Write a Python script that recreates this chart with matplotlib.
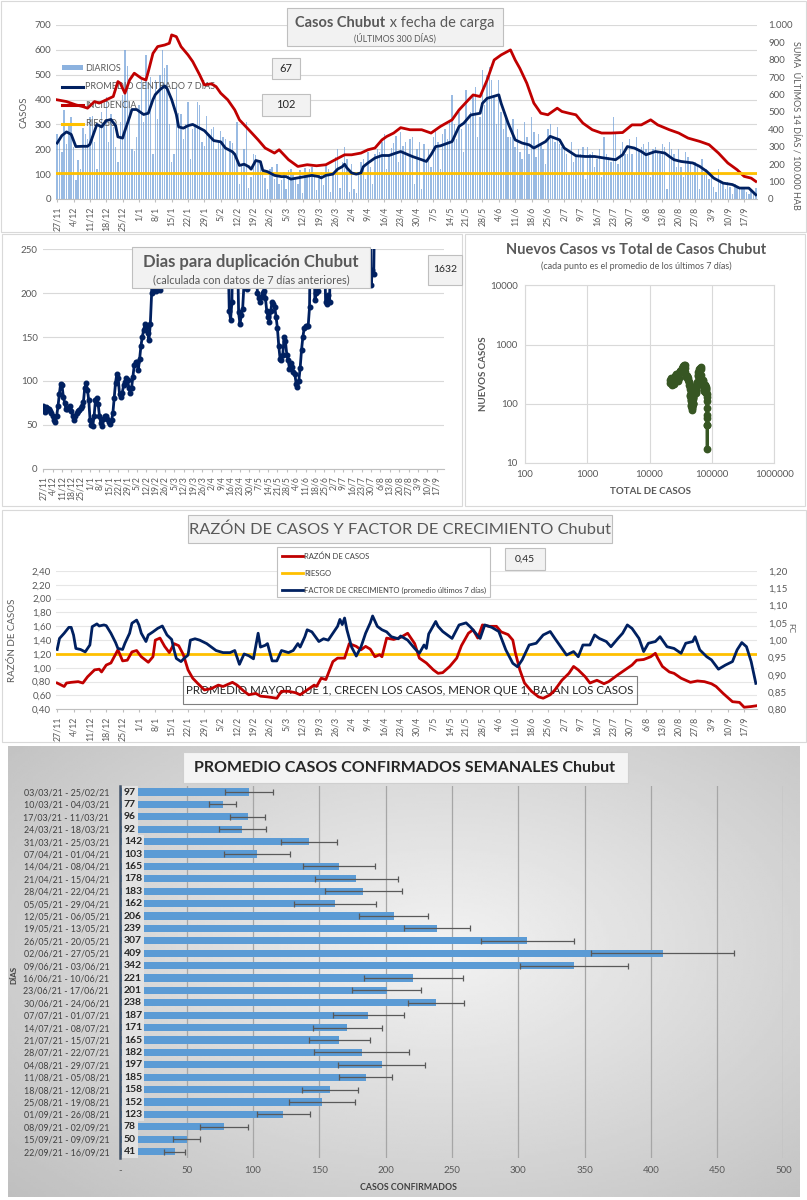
import numpy as np
import matplotlib
matplotlib.use('Agg')
import matplotlib.pyplot as plt
from matplotlib.patches import Rectangle, Patch
from matplotlib.lines import Line2D
from matplotlib.ticker import FuncFormatter, NullLocator

plt.rcParams['font.family'] = ['Lato', 'DejaVu Sans']

# ---------------- datos ----------------
fechas = ['27/11', '4/12', '11/12', '18/12', '25/12', '1/1', '8/1', '15/1', '22/1', '29/1',
          '5/2', '12/2', '19/2', '26/2', '5/3', '12/3', '19/3', '26/3', '2/4', '9/4',
          '16/4', '23/4', '30/4', '7/5', '14/5', '21/5', '28/5', '4/6', '11/6', '18/6',
          '25/6', '2/7', '9/7', '16/7', '23/7', '30/7', '6/8', '13/8', '20/8', '27/8',
          '3/9', '10/9', '17/9']

# casos diarios (300 dias desde 27/11)
diarios = [
    262, 245, 190, 360, 220, 300, 330,
    210, 75, 155, 120, 285, 260, 240,
    330, 335, 230, 120, 300, 350, 310,
    410, 230, 340, 290, 210, 150, 310,
    420, 600, 535, 390, 200, 195, 250,
    380, 480, 310, 580, 470, 490, 180,
    480, 320, 500, 600, 525, 540, 300,
    150, 180, 450, 345, 340, 240, 300,
    390, 160, 280, 300, 390, 380, 230,
    215, 335, 260, 280, 290, 200, 230,
    275, 250, 240, 110, 235, 225, 170,
    310, 60, 140, 200, 310, 45, 90,
    180, 175, 150, 140, 125, 85, 40,
    120, 130, 80, 140, 60, 75, 110,
    40, 115, 120, 100, 90, 60, 115,
    25, 125, 95, 120, 130, 90, 35,
    95, 110, 55, 140, 120, 30, 100,
    170, 200, 45, 150, 210, 160, 30,
    140, 40, 25, 110, 150, 160, 80,
    190, 130, 60, 180, 200, 190, 230,
    260, 120, 180, 205, 225, 255, 150,
    270, 215, 230, 110, 240, 250, 60,
    200, 230, 40, 220, 160, 200, 130,
    250, 280, 230, 120, 260, 280, 240,
    310, 420, 300, 240, 350, 280, 190,
    440, 300, 350, 420, 450, 250, 330,
    520, 380, 500, 530, 480, 420, 300,
    480, 350, 280, 330, 250, 250, 320,
    210, 280, 190, 160, 310, 250, 180,
    330, 270, 170, 260, 220, 200, 140,
    280, 300, 250, 230, 290, 220, 210,
    200, 180, 100, 230, 150, 170, 200,
    180, 210, 80, 210, 180, 190, 130,
    160, 200, 90, 250, 180, 170, 150,
    330, 260, 140, 200, 230, 180, 180,
    240, 180, 100, 250, 200, 210, 220,
    200, 230, 90, 200, 210, 190, 180,
    220, 210, 40, 230, 200, 180, 130,
    200, 130, 90, 190, 170, 150, 110,
    150, 130, 40, 160, 100, 120, 80,
    90, 50, 30, 120, 70, 60, 40,
    70, 50, 20, 60, 50, 45, 40,
    50, 30, 20, 40, 30, 45]

# promedio centrado 7 dias (dia, valor)
prom_dias = [0, 2, 4, 6, 8, 11, 13, 14, 17, 19, 21, 23, 25, 26, 28, 29, 31, 32, 34, 37,
             39, 41, 42, 44, 46, 47, 49, 51, 52, 54, 56, 58, 60, 63, 65, 67, 70, 72, 75, 76,
             78, 80, 82, 83, 85, 87, 88, 90, 93, 96, 98, 100, 103, 106, 109, 112, 113, 115, 118, 120,
             122, 123, 124, 126, 128, 130, 131, 133, 136, 139, 142, 145, 147, 152, 156, 158, 160, 162, 164, 169,
             172, 174, 177, 181, 182, 184, 189, 190, 193, 196, 199, 202, 204, 209, 211, 215, 217, 222, 226, 230,
             234, 239, 242, 244, 247, 250, 252, 256, 260, 262, 264, 267, 272, 275, 278, 281, 285, 289, 292, 296,
             299]
prom_vals = [225, 255, 270, 260, 211, 212, 212, 220, 300, 290, 315, 320, 295, 250, 245, 275, 330, 360, 360, 340,
             345, 400, 420, 440, 455, 445, 400, 340, 290, 285, 295, 300, 290, 275, 255, 235, 230, 205, 190, 180,
             135, 140, 130, 120, 155, 150, 115, 110, 95, 90, 90, 80, 85, 90, 95, 90, 85, 95, 100, 120,
             130, 140, 125, 105, 100, 105, 130, 145, 165, 175, 175, 185, 191, 171, 158, 151, 178, 211, 214, 231,
             292, 305, 338, 345, 385, 405, 419, 385, 305, 238, 225, 218, 205, 231, 252, 238, 205, 174, 171, 171,
             165, 158, 178, 211, 205, 191, 178, 191, 185, 171, 158, 151, 145, 131, 111, 84, 64, 58, 44, 44,
             17]

# incidencia: suma ultimos 14 dias / 100.000 hab (dia, valor)
inc_dias = [0, 4, 8, 11, 13, 16, 18, 21, 24, 26, 27, 29, 31, 33, 36, 38, 39, 41, 43, 46,
            48, 49, 51, 53, 56, 58, 61, 63, 66, 68, 70, 73, 76, 78, 82, 86, 89, 93, 95, 99,
            103, 107, 111, 115, 119, 123, 126, 130, 133, 136, 139, 141, 144, 147, 151, 156, 160, 164, 169, 172,
            176, 178, 181, 184, 187, 190, 194, 196, 198, 201, 204, 207, 210, 214, 216, 219, 222, 225, 229, 233,
            237, 242, 246, 250, 254, 257, 262, 266, 270, 275, 279, 283, 287, 291, 294, 297, 299]
inc_vals = [570, 560, 541, 531, 522, 560, 551, 570, 589, 675, 665, 608, 684, 723, 694, 684, 732, 837, 876, 885,
            895, 943, 933, 876, 828, 790, 713, 656, 662, 646, 608, 570, 512, 455, 398, 340, 293, 264, 283, 226,
            187, 197, 191, 197, 226, 254, 254, 264, 283, 293, 340, 359, 379, 410, 398, 398, 379, 417, 455, 512,
            570, 598, 589, 684, 799, 828, 857, 799, 751, 665, 551, 493, 484, 522, 503, 493, 484, 436, 398, 379,
            379, 382, 426, 426, 455, 426, 398, 379, 350, 331, 312, 264, 207, 168, 130, 120, 101]
riesgo_inc = 150

# dias para duplicacion (uno por dia; fuera de escala > 250)
duplicacion = [
    71, 65, 70, 69, 68, 66, 63, 60, 56, 53,
    60, 71, 85, 97, 95, 82, 75, 68, 68, 70,
    71, 66, 60, 56, 60, 63, 66, 67, 69, 71,
    76, 92, 98, 90, 78, 55, 50, 49, 60, 78,
    80, 74, 60, 52, 49, 57, 60, 60, 57, 53,
    51, 55, 63, 80, 98, 108, 103, 85, 82, 86,
    95, 99, 103, 101, 92, 86, 92, 105, 118, 122,
    122, 112, 125, 140, 150, 158, 165, 162, 155, 147,
    165, 200, 400, 204, 203, 205, 207, 204, 300, 280,
    350, 420, 510, 600, 700, 820, 950, 1100, 1250, 1400,
    1500, 1300, 1100, 900, 780, 650, 540, 460, 400, 380,
    420, 500, 620, 800, 1000, 1200, 900, 700, 560, 480,
    430, 400, 380, 360, 340, 330, 320, 310, 300, 295,
    290, 285, 280, 275, 270, 268, 265, 262, 258, 180,
    170, 190, 320, 400, 300, 260, 178, 165, 175, 182,
    210, 260, 205, 300, 380, 450, 400, 330, 280, 260,
    200, 195, 190, 196, 200, 203, 195, 180, 173, 167,
    180, 190, 188, 184, 173, 160, 140, 125, 124, 130,
    150, 145, 130, 124, 114, 120, 116, 110, 108, 97,
    93, 100, 115, 135, 150, 160, 163, 163, 163, 184,
    320, 400, 280, 192, 200, 203, 300, 350, 400, 320,
    270, 190, 188, 198, 190, 300, 380, 460, 540, 620,
    700, 800, 900, 1000, 1100, 1000, 900, 800, 700, 650,
    600, 560, 520, 480, 450, 420, 400, 380, 360, 340,
    330, 320, 310, 300, 400, 209, 226, 222, 350, 450,
    560, 640, 780, 830, 960, 1010, 1180, 1240, 1390, 1420,
    1500, 1620, 1800, 1750, 1900, 2100, 2000, 2300, 2250, 2500,
    2400, 2650, 2800, 2700, 2950, 3100, 2900, 2600, 2400, 2200,
    2100, 2000, 1950, 1900, 1850, 1800, 1760, 1720, 1700, 1690,
    1680, 1670, 1660, 1650, 1645, 1640, 1638, 1636, 1634, 1632]

total_inicial = 21000   # casos acumulados al 26/11

# razon de casos (dia, valor)
raz_dias = [0, 3, 4, 6, 9, 11, 13, 16, 18, 19, 21, 23, 26, 28, 30, 32, 34, 36, 39, 41,
            42, 44, 46, 48, 50, 52, 54, 56, 58, 60, 63, 66, 69, 71, 75, 77, 80, 82, 85, 87,
            90, 94, 96, 99, 102, 104, 107, 110, 111, 113, 115, 118, 120, 123, 125, 128, 130, 132, 134, 136,
            138, 139, 141, 144, 147, 150, 153, 155, 158, 161, 163, 165, 168, 171, 173, 176, 178, 180, 182, 185,
            188, 190, 193, 195, 196, 198, 200, 203, 206, 208, 211, 213, 216, 219, 221, 223, 226, 228, 231, 234,
            236, 240, 243, 246, 248, 251, 254, 256, 257, 259, 262, 264, 267, 271, 274, 277, 280, 282, 285, 289,
            292, 294, 297, 299]
raz_vals = [0.78, 0.73, 0.78, 0.79, 0.80, 0.78, 0.87, 0.97, 0.98, 0.94, 1.04, 1.07, 1.26, 1.10, 1.11, 1.23, 1.25, 1.16, 1.08, 1.16,
            1.40, 1.43, 1.31, 1.22, 1.35, 1.32, 1.19, 0.97, 0.85, 0.78, 0.68, 0.70, 0.75, 0.73, 0.79, 0.75, 0.66, 0.61, 0.63, 0.59,
            0.58, 0.56, 0.66, 0.66, 0.64, 0.61, 0.68, 0.75, 0.73, 0.85, 0.83, 1.09, 1.14, 1.14, 1.35, 1.31, 1.26, 1.31, 1.27, 1.16,
            1.19, 1.16, 1.43, 1.41, 1.44, 1.50, 1.35, 1.14, 1.07, 0.97, 0.92, 0.93, 1.02, 1.14, 1.32, 1.50, 1.55, 1.43, 1.62, 1.60,
            1.60, 1.52, 1.48, 1.40, 1.23, 0.97, 0.78, 0.66, 0.58, 0.56, 0.61, 0.68, 0.82, 0.92, 1.02, 0.97, 0.87, 0.78, 0.82, 0.77,
            0.80, 0.90, 0.97, 1.04, 1.11, 1.12, 1.16, 1.21, 1.14, 1.02, 0.94, 0.92, 0.85, 0.79, 0.81, 0.80, 0.77, 0.73, 0.63, 0.51,
            0.50, 0.43, 0.44, 0.45]
riesgo_raz = 1.20

# factor de crecimiento, promedio ultimos 7 dias (dia, valor)
fc_dias = [0, 1, 3, 5, 6, 7, 8, 10, 12, 13, 14, 15, 17, 18, 20, 21, 23, 25, 26, 28,
           29, 31, 32, 34, 35, 36, 38, 39, 41, 43, 45, 47, 49, 50, 51, 53, 54, 56, 57, 59,
           61, 64, 68, 71, 74, 76, 78, 80, 82, 84, 86, 87, 89, 90, 92, 94, 96, 99, 101, 103,
           104, 106, 107, 109, 112, 114, 116, 118, 120, 121, 122, 123, 124, 126, 128, 130, 132, 134, 135, 137,
           139, 141, 143, 146, 147, 150, 153, 155, 157, 158, 159, 162, 163, 165, 169, 172, 175, 177, 181, 183,
           186, 189, 192, 195, 197, 199, 202, 205, 208, 211, 213, 216, 218, 221, 223, 225, 228, 230, 232, 235,
           237, 240, 242, 244, 246, 249, 251, 253, 256, 258, 261, 264, 267, 269, 272, 273, 275, 278, 280, 283,
           286, 289, 291, 293, 295, 297, 299]
fc_vals = [0.973, 1.005, 1.020, 1.037, 1.037, 1.015, 0.976, 0.973, 0.966, 0.976, 0.986, 1.039, 1.047, 1.041, 1.044, 1.042, 1.020, 0.993, 0.976, 0.973,
           0.991, 1.020, 1.049, 1.058, 1.044, 1.020, 0.996, 1.015, 1.024, 1.034, 1.041, 1.015, 1.002, 0.972, 0.947, 0.938, 0.945, 0.957, 1.000, 1.004,
           1.000, 0.990, 0.970, 0.964, 0.964, 0.970, 0.930, 0.960, 0.955, 0.946, 1.020, 0.980, 0.985, 0.990, 0.940, 0.940, 0.970, 0.964, 0.970, 0.990,
           0.980, 1.010, 1.030, 1.024, 0.996, 1.004, 1.000, 1.020, 1.040, 1.060, 1.045, 1.064, 1.030, 0.980, 0.954, 0.980, 1.020, 1.050, 1.070, 1.040,
           1.030, 1.024, 1.010, 1.004, 1.012, 1.000, 0.976, 0.962, 0.986, 0.976, 1.018, 1.054, 1.040, 1.025, 1.005, 1.044, 1.050, 1.037, 1.005, 1.044,
           1.037, 1.025, 0.972, 0.933, 0.923, 0.943, 0.986, 0.991, 1.015, 1.025, 1.005, 0.976, 0.957, 0.967, 0.952, 0.986, 0.986, 1.015, 1.005, 0.996,
           0.981, 1.005, 1.020, 1.044, 1.034, 1.005, 0.967, 0.991, 0.996, 1.010, 0.981, 0.976, 0.962, 0.991, 0.996, 1.010, 0.972, 0.952, 0.943, 0.916,
           0.928, 0.938, 0.972, 0.993, 0.981, 0.938, 0.875]

# promedio semanal de casos confirmados
semanas = ['03/03/21 - 25/02/21', '10/03/21 - 04/03/21', '17/03/21 - 11/03/21', '24/03/21 - 18/03/21',
           '31/03/21 - 25/03/21', '07/04/21 - 01/04/21', '14/04/21 - 08/04/21', '21/04/21 - 15/04/21',
           '28/04/21 - 22/04/21', '05/05/21 - 29/04/21', '12/05/21 - 06/05/21', '19/05/21 - 13/05/21',
           '26/05/21 - 20/05/21', '02/06/21 - 27/05/21', '09/06/21 - 03/06/21', '16/06/21 - 10/06/21',
           '23/06/21 - 17/06/21', '30/06/21 - 24/06/21', '07/07/21 - 01/07/21', '14/07/21 - 08/07/21',
           '21/07/21 - 15/07/21', '28/07/21 - 22/07/21', '04/08/21 - 29/07/21', '11/08/21 - 05/08/21',
           '18/08/21 - 12/08/21', '25/08/21 - 19/08/21', '01/09/21 - 26/08/21', '08/09/21 - 02/09/21',
           '15/09/21 - 09/09/21', '22/09/21 - 16/09/21']
prom_semanal = [97, 77, 96, 92, 142, 103, 165, 178, 183, 162, 206, 239, 307, 409, 342,
                221, 201, 238, 187, 171, 165, 182, 197, 185, 158, 152, 123, 78, 50, 41]
desvio = [18, 10, 13, 18, 21, 25, 27, 31, 29, 31, 26, 25, 35, 54, 41,
          37, 26, 21, 27, 26, 23, 36, 33, 20, 21, 25, 20, 18, 10, 8]

# ---------------- figura ----------------
W, H = 807, 1200
fig = plt.figure(figsize=(W / 100, H / 100), dpi=100)
GRIS = '#595959'
AZUL = '#002060'
ROJO = '#c00000'
AMAR = '#ffc000'


def rect(x0, y0, x1, y1):
    return [x0 / W, 1 - y1 / H, (x1 - x0) / W, (y1 - y0) / H]


def fx(x):
    return x / W


def fy(y):
    return 1 - y / H


def caja(x0, y0, x1, y1, fc='#f2f2f2', ec='#bfbfbf', lw=0.8, z=5, ax=None):
    r = Rectangle((x0 / W, 1 - y1 / H), (x1 - x0) / W, (y1 - y0) / H,
                  transform=fig.transFigure, facecolor=fc, edgecolor=ec, lw=lw, zorder=z)
    if ax is None:
        fig.add_artist(r)
    else:
        r.set_clip_on(False)
        ax.add_artist(r)


def texto(x, y, s, **kw):
    kw.setdefault('ha', 'center')
    kw.setdefault('va', 'center')
    kw.setdefault('color', GRIS)
    kw.setdefault('zorder', 6)
    fig.text(fx(x), fy(y), s, **kw)


dias = np.arange(len(diarios))
ticks = np.arange(len(fechas)) * 7

# bordes de los paneles
for b in [(1, 1, 806, 232), (2, 234, 462, 506), (465, 234, 805, 506), (2, 510, 806, 742)]:
    caja(*b, fc='none', ec='#d9d9d9', z=0.5)

# fondo degradado del ultimo panel
axbg = fig.add_axes(rect(8, 746, 800, 1197), zorder=-5)
yy, xx = np.mgrid[0:1:200j, 0:1:300j]
rr = np.sqrt(((xx - 0.55) / 0.75) ** 2 + ((yy - 0.45) / 0.8) ** 2)
axbg.imshow(0.95 - 0.2 * rr, cmap='gray', vmin=0, vmax=1, aspect='auto', extent=(0, 1, 0, 1))
axbg.axis('off')

# ---------------- panel 1 ----------------
ax1 = fig.add_axes(rect(56, 25, 757, 199))
ax1.bar(dias, diarios, width=0.6, color='#6f9fd8', alpha=0.7, zorder=2)
ax1.set_xlim(-0.5, 299.5)
ax1.set_ylim(0, 700)
ax1.set_yticks(np.arange(0, 701, 100))
ax1.grid(axis='y', color='#d9d9d9', lw=0.8, zorder=0)
ax1.set_xticks(ticks)
ax1.set_xticklabels(fechas, rotation=90, fontsize=6.3, color=GRIS)
ax1.tick_params(axis='y', labelsize=7, labelcolor=GRIS, length=0)
ax1.tick_params(axis='x', length=2, color='#bfbfbf')
for s in ['top', 'left', 'right']:
    ax1.spines[s].set_visible(False)
ax1.spines['bottom'].set_color('#bfbfbf')

handles = [Patch(facecolor='#6f9fd8', alpha=0.8),
           Line2D([], [], color=AZUL, lw=2.2),
           Line2D([], [], color=ROJO, lw=2.2),
           Line2D([], [], color=AMAR, lw=2.2)]
ax1.legend(handles, ['DIARIOS', 'PROMEDIO CENTRADO 7 DÍAS', 'INCIDENCIA', 'RIESGO'],
           loc='upper left', bbox_to_anchor=(fx(62), fy(64)), bbox_transform=fig.transFigure,
           frameon=False, fontsize=6.5, labelcolor=GRIS, handlelength=2.3, handleheight=0.5,
           handletextpad=0.3, labelspacing=1.05, borderpad=0, borderaxespad=0)

ax1b = ax1.twinx()
ax1b.plot(inc_dias, inc_vals, color=ROJO, lw=2)
ax1b.axhline(riesgo_inc, color=AMAR, lw=2)
ax1b.set_ylim(0, 1000)
ax1b.set_yticks(np.arange(0, 1001, 100))
ax1b.yaxis.set_major_formatter(FuncFormatter(lambda v, p: '1.000' if v >= 1000 else f'{v:.0f}'))
ax1b.tick_params(axis='y', labelsize=7, labelcolor=GRIS, length=0, pad=8)
for s in ax1b.spines.values():
    s.set_visible(False)

ax1c = fig.add_axes(rect(56, 25, 757, 199), sharex=ax1, sharey=ax1)
ax1c.patch.set_visible(False)
ax1c.plot(prom_dias, prom_vals, color=AZUL, lw=2)
ax1c.axis('off')

texto(24, 112, 'CASOS', rotation=90, fontsize=7)
texto(796, 125, 'SUMA  ÚLTIMOS 14 DÍAS / 100.000 HAB', rotation=270, fontsize=6.5)
caja(287, 8, 503, 46)
texto(385, 23, 'Casos Chubut', ha='right', fontsize=10.5, fontweight='bold')
texto(386, 23, ' x fecha de carga', ha='left', fontsize=10.5)
texto(395, 38, '(ÚLTIMOS 300 DÍAS)', fontsize=6.3)
caja(272, 58, 300, 79)
texto(286, 68.5, '67', fontsize=8, color='#262626')
caja(262, 94, 310, 116)
texto(286, 105, '102', fontsize=8, color='#262626')

# ---------------- panel 2 ----------------
ax2 = fig.add_axes(rect(42.6, 249.3, 444, 468.7))
ax2.plot(np.arange(len(duplicacion)), duplicacion, color=AZUL, lw=2, marker='o', ms=3.3)
ax2.set_xlim(-0.5, 299.5)
ax2.set_ylim(0, 250)
ax2.set_yticks(np.arange(0, 251, 50))
ax2.grid(axis='y', color='#d9d9d9', lw=0.8)
ax2.set_axisbelow(True)
ax2.set_xticks(ticks)
ax2.set_xticklabels(fechas, rotation=90, fontsize=6.2, color=GRIS)
ax2.tick_params(axis='y', labelsize=7, labelcolor=GRIS, length=0)
ax2.tick_params(axis='x', length=2, color='#bfbfbf')
for s in ['top', 'left', 'right']:
    ax2.spines[s].set_visible(False)
ax2.spines['bottom'].set_color('#bfbfbf')
caja(132, 247, 370, 288)
texto(251, 262, 'Dias para duplicación Chubut', fontsize=12, fontweight='bold')
texto(251, 280, '(calculada con datos de 7 días anteriores)', fontsize=7.8)
caja(428, 255, 462, 285)
texto(445, 270, '1632', fontsize=7.5, color='#262626')

# ---------------- panel 3 ----------------
acumulado = total_inicial + np.cumsum(diarios)
ax3 = fig.add_axes(rect(524.7, 285.3, 774.3, 463))
ax3.plot(acumulado[prom_dias], prom_vals, color='#375623', lw=2.5, marker='o', ms=4.6)
ax3.set_xscale('log')
ax3.set_yscale('log')
ax3.set_xlim(100, 1e6)
ax3.set_ylim(10, 1e4)
ax3.set_xticks([100, 1000, 10000, 100000, 1000000])
ax3.set_yticks([10, 100, 1000, 10000])
ax3.xaxis.set_minor_locator(NullLocator())
ax3.yaxis.set_minor_locator(NullLocator())
fmt = FuncFormatter(lambda v, p: f'{v:.0f}')
ax3.xaxis.set_major_formatter(fmt)
ax3.yaxis.set_major_formatter(fmt)
ax3.grid(color='#d9d9d9', lw=0.8)
ax3.set_axisbelow(True)
ax3.tick_params(labelsize=7, labelcolor=GRIS, length=0, pad=5)
for s in ax3.spines.values():
    s.set_color('#d9d9d9')
texto(636, 250, 'Nuevos Casos vs Total de Casos Chubut', fontsize=10.5, fontweight='bold')
texto(636, 266, '(cada punto es el promedio de los últimos 7 días)', fontsize=6.5)
texto(650, 492, 'TOTAL DE CASOS', fontsize=7, fontweight='bold')
texto(484, 374, 'NUEVOS CASOS', fontsize=7, fontweight='bold', rotation=90)

# ---------------- panel 4 ----------------
ax4 = fig.add_axes(rect(56, 571, 757, 709.3))
ax4.plot(raz_dias, raz_vals, color=ROJO, lw=2, zorder=3)
ax4.axhline(riesgo_raz, color=AMAR, lw=2, zorder=2)
ax4.set_xlim(-0.5, 299.5)
ax4.set_ylim(0.4, 2.4)
ax4.set_yticks(np.arange(0.4, 2.41, 0.2))
ax4.yaxis.set_major_formatter(FuncFormatter(lambda v, p: f'{v:.2f}'.replace('.', ',')))
ax4.grid(axis='y', color='#e6e6e6', lw=0.8)
ax4.set_axisbelow(True)
ax4.set_xticks(ticks)
ax4.set_xticklabels(fechas, rotation=90, fontsize=6.3, color=GRIS)
ax4.tick_params(axis='y', labelsize=7, labelcolor=GRIS, length=0)
ax4.tick_params(axis='x', length=2, color='#bfbfbf')
for s in ['top', 'left', 'right']:
    ax4.spines[s].set_visible(False)
ax4.spines['bottom'].set_color('#bfbfbf')
caja(183, 676, 637, 704, fc='none', ec='#7f7f7f', z=1, ax=ax4)
ax4.text(fx(410), fy(690), 'PROMEDIO MAYOR QUE 1, CRECEN LOS CASOS, MENOR QUE 1, BAJAN LOS CASOS',
         transform=fig.transFigure, ha='center', va='center', fontsize=8.3, color='#262626', zorder=1)

ax4b = ax4.twinx()
ax4b.plot(fc_dias, fc_vals, color=AZUL, lw=2)
ax4b.set_ylim(0.8, 1.2)
ax4b.set_yticks(np.arange(0.8, 1.201, 0.05))
ax4b.yaxis.set_major_formatter(FuncFormatter(lambda v, p: f'{v:.2f}'.replace('.', ',')))
ax4b.tick_params(axis='y', labelsize=7, labelcolor=GRIS, length=0, pad=8)
for s in ax4b.spines.values():
    s.set_visible(False)

caja(188, 515, 612, 543)
texto(400, 530, 'RAZÓN DE CASOS Y FACTOR DE CRECIMIENTO Chubut', fontsize=11.8)
caja(277, 547, 490, 597, fc='white')
for yy_, col, lab in [(556, ROJO, 'RAZÓN DE CASOS'), (573, AMAR, 'RIESGO'),
                      (590, AZUL, 'FACTOR DE CRECIMIENTO (promedio últimos 7 días)')]:
    fig.add_artist(Line2D([fx(282), fx(303)], [fy(yy_), fy(yy_)], transform=fig.transFigure,
                          color=col, lw=2, zorder=6))
    texto(304, yy_, lab, ha='left', fontsize=5.5, color='#404040')
caja(505, 548, 545, 570)
texto(525, 559, '0,45', fontsize=7.5, color='#262626')
texto(13, 640, 'RAZÓN DE CASOS', rotation=90, fontsize=7)
texto(791, 628, 'FC', rotation=270, fontsize=6)

# ---------------- panel 5 ----------------
ax5 = fig.add_axes(rect(120.4, 785.8, 783.4, 1157.9))
ax5.patch.set_visible(False)
pos = np.arange(len(semanas))
ax5.barh(pos, prom_semanal, xerr=desvio, height=0.58, color='#5b9bd5', zorder=2,
         error_kw=dict(ecolor='#595959', elinewidth=0.9, capsize=2.3, capthick=0.9, zorder=3))
for i, v in enumerate(prom_semanal):
    ax5.text(2.6, i, str(v), ha='left', va='center', fontsize=7.5, fontweight='bold', color='#262626',
             zorder=4, bbox=dict(boxstyle='square,pad=0.18', fc='#e2e2e2', ec='none'))
ax5.set_ylim(len(semanas) - 0.5, -0.5)
ax5.set_xlim(0, 500)
ax5.set_xticks(np.arange(0, 501, 50))
ax5.set_xticklabels(['-'] + [str(v) for v in range(50, 501, 50)])
ax5.set_yticks(pos)
ax5.set_yticklabels(semanas)
ax5.grid(axis='x', color='#a6a6a6', lw=0.9, zorder=0)
ax5.tick_params(axis='y', labelsize=6.4, labelcolor='#404040', length=0, pad=8)
ax5.tick_params(axis='x', labelsize=7, labelcolor=GRIS, length=0, pad=6)
for s in ['top', 'right', 'bottom']:
    ax5.spines[s].set_visible(False)
ax5.spines['left'].set_color('#44546a')
ax5.spines['left'].set_linewidth(1.8)
caja(183, 752, 628, 783, fc='#f4f4f4', ec='#cfcfcf')
texto(405, 768, 'PROMEDIO CASOS CONFIRMADOS SEMANALES Chubut', fontsize=11.5, fontweight='bold',
      color='#262626')
texto(408, 1188, 'CASOS CONFIRMADOS', fontsize=6.3, fontweight='bold', color='#404040')
texto(14, 975, 'DÍAS', rotation=90, fontsize=5.8, fontweight='bold', color='#404040')

fig.savefig('out.png', dpi=100)
